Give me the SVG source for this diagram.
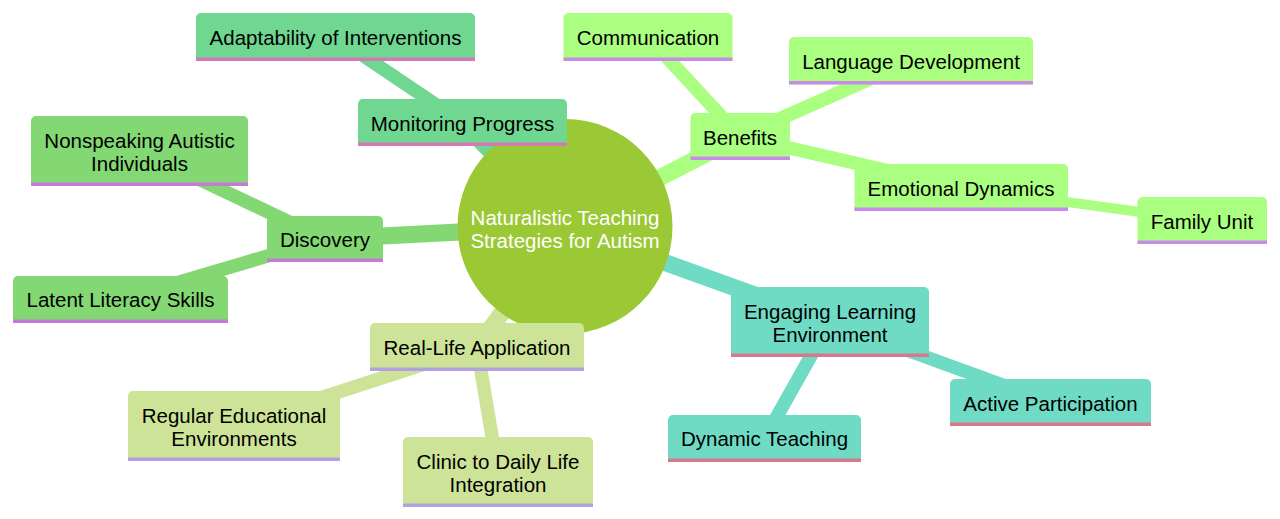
<svg xmlns="http://www.w3.org/2000/svg" width="1280" height="519" viewBox="0 0 1280 519">
<style>
text{font-family:"Liberation Sans",Arial,sans-serif;font-size:20.5px;text-anchor:middle;fill:#000}
.root text{fill:#fff}
.e{fill:none;stroke-linecap:butt}
.d0{stroke-width:17}
.d1{stroke-width:13.5}
.d2{stroke-width:10}
.sA{fill:#6fd790}.lA{stroke:#d27ab6}.eA{stroke:#6fd790}
.sB{fill:#83d874}.lB{stroke:#c47ad6}.eB{stroke:#83d874}
.sC{fill:#aaff80}.lC{stroke:#c98ae8}.eC{stroke:#aaff80}
.sD{fill:#6fdbc5}.lD{stroke:#d8798b}.eD{stroke:#6fdbc5}
.sE{fill:#cde498}.lE{stroke:#b3a0e0}.eE{stroke:#cde498}
.ln{stroke-width:3.5;fill:none}
</style>
<g id="connectors">
<line class="e d0 eA" x1="565" y1="226.5" x2="462.5" y2="122.5"/>
<line class="e d1 eA" x1="462.5" y1="122.5" x2="335.5" y2="37"/>
<line class="e d0 eB" x1="565" y1="226.5" x2="325" y2="239"/>
<line class="e d1 eB" x1="325" y1="239" x2="139.5" y2="151"/>
<line class="e d1 eB" x1="325" y1="239" x2="120.5" y2="299.5"/>
<line class="e d0 eE" x1="565" y1="226.5" x2="477" y2="347"/>
<line class="e d1 eE" x1="477" y1="347" x2="234" y2="426"/>
<line class="e d1 eE" x1="477" y1="347" x2="498" y2="472"/>
<line class="e d0 eD" x1="565" y1="226.5" x2="830" y2="322"/>
<line class="e d1 eD" x1="830" y1="322" x2="764.5" y2="438.5"/>
<line class="e d1 eD" x1="830" y1="322" x2="1050.5" y2="402.5"/>
<line class="e d0 eC" x1="565" y1="226.5" x2="740" y2="136.5"/>
<line class="e d1 eC" x1="740" y1="136.5" x2="648" y2="37"/>
<line class="e d1 eC" x1="740" y1="136.5" x2="911" y2="60.75"/>
<line class="e d1 eC" x1="740" y1="136.5" x2="961" y2="187.5"/>
<line class="e d2 eC" x1="961" y1="187.5" x2="1202" y2="220.5"/>
</g>
<g id="root" class="root">
<circle cx="565" cy="226.5" r="107.5" fill="#9bc835"/>
<text x="565" y="224.5">Naturalistic Teaching</text>
<text x="565" y="247.5">Strategies for Autism</text>
</g>
<g id="monitoring">
<path class="sA" d="M358,146V104a5,5 0 0 1 5,-5H562a5,5 0 0 1 5,5V146Z"/>
<line class="ln lA" x1="358" y1="144.2" x2="567" y2="144.2"/>
<text x="462.5" y="130.5">Monitoring Progress</text>
</g>
<g id="adaptability">
<path class="sA" d="M196,61V18a5,5 0 0 1 5,-5H470a5,5 0 0 1 5,5V61Z"/>
<line class="ln lA" x1="196" y1="59.2" x2="475" y2="59.2"/>
<text x="335.5" y="44.5">Adaptability of Interventions</text>
</g>
<g id="discovery">
<path class="sB" d="M267,262V221a5,5 0 0 1 5,-5H378a5,5 0 0 1 5,5V262Z"/>
<line class="ln lB" x1="267" y1="260.2" x2="383" y2="260.2"/>
<text x="325" y="247">Discovery</text>
</g>
<g id="nonspeaking">
<path class="sB" d="M31,186V121a5,5 0 0 1 5,-5H243a5,5 0 0 1 5,5V186Z"/>
<line class="ln lB" x1="31" y1="184.2" x2="248" y2="184.2"/>
<text x="139.5" y="148">Nonspeaking Autistic</text>
<text x="139.5" y="171">Individuals</text>
</g>
<g id="latent">
<path class="sB" d="M13,323V281a5,5 0 0 1 5,-5H223a5,5 0 0 1 5,5V323Z"/>
<line class="ln lB" x1="13" y1="321.2" x2="228" y2="321.2"/>
<text x="120.5" y="307">Latent Literacy Skills</text>
</g>
<g id="reallife">
<path class="sE" d="M370,371V328a5,5 0 0 1 5,-5H579a5,5 0 0 1 5,5V371Z"/>
<line class="ln lE" x1="370" y1="369.2" x2="584" y2="369.2"/>
<text x="477" y="354.5">Real-Life Application</text>
</g>
<g id="regular">
<path class="sE" d="M128,461V396a5,5 0 0 1 5,-5H335a5,5 0 0 1 5,5V461Z"/>
<line class="ln lE" x1="128" y1="459.2" x2="340" y2="459.2"/>
<text x="234" y="422.5">Regular Educational</text>
<text x="234" y="445.5">Environments</text>
</g>
<g id="clinic">
<path class="sE" d="M403,507V442a5,5 0 0 1 5,-5H588a5,5 0 0 1 5,5V507Z"/>
<line class="ln lE" x1="403" y1="505.2" x2="593" y2="505.2"/>
<text x="498" y="468.5">Clinic to Daily Life</text>
<text x="498" y="491.5">Integration</text>
</g>
<g id="engaging">
<path class="sD" d="M731,357V292a5,5 0 0 1 5,-5H924a5,5 0 0 1 5,5V357Z"/>
<line class="ln lD" x1="731" y1="355.2" x2="929" y2="355.2"/>
<text x="830" y="318.5">Engaging Learning</text>
<text x="830" y="341.5">Environment</text>
</g>
<g id="dynamic">
<path class="sD" d="M668,462V420a5,5 0 0 1 5,-5H856a5,5 0 0 1 5,5V462Z"/>
<line class="ln lD" x1="668" y1="460.2" x2="861" y2="460.2"/>
<text x="764.5" y="446">Dynamic Teaching</text>
</g>
<g id="active">
<path class="sD" d="M950,426V384a5,5 0 0 1 5,-5H1146a5,5 0 0 1 5,5V426Z"/>
<line class="ln lD" x1="950" y1="424.2" x2="1151" y2="424.2"/>
<text x="1050.5" y="410.5">Active Participation</text>
</g>
<g id="benefits">
<path class="sC" d="M690.5,160V118a5,5 0 0 1 5,-5H785a5,5 0 0 1 5,5V160Z"/>
<line class="ln lC" x1="690.5" y1="158.2" x2="790" y2="158.2"/>
<text x="740" y="144.5">Benefits</text>
</g>
<g id="communication">
<path class="sC" d="M563.5,61V18a5,5 0 0 1 5,-5H727.5a5,5 0 0 1 5,5V61Z"/>
<line class="ln lC" x1="563.5" y1="59.2" x2="732.5" y2="59.2"/>
<text x="648" y="44.5">Communication</text>
</g>
<g id="language">
<path class="sC" d="M789,84.5V42a5,5 0 0 1 5,-5H1028a5,5 0 0 1 5,5V84.5Z"/>
<line class="ln lC" x1="789" y1="82.7" x2="1033" y2="82.7"/>
<text x="911" y="68.5">Language Development</text>
</g>
<g id="emotional">
<path class="sC" d="M854.5,211V169a5,5 0 0 1 5,-5H1063a5,5 0 0 1 5,5V211Z"/>
<line class="ln lC" x1="854.5" y1="209.2" x2="1068" y2="209.2"/>
<text x="961" y="195.5">Emotional Dynamics</text>
</g>
<g id="family">
<path class="sC" d="M1137.5,244V202a5,5 0 0 1 5,-5H1262a5,5 0 0 1 5,5V244Z"/>
<line class="ln lC" x1="1137.5" y1="242.2" x2="1267" y2="242.2"/>
<text x="1202" y="228.5">Family Unit</text>
</g>
</svg>
